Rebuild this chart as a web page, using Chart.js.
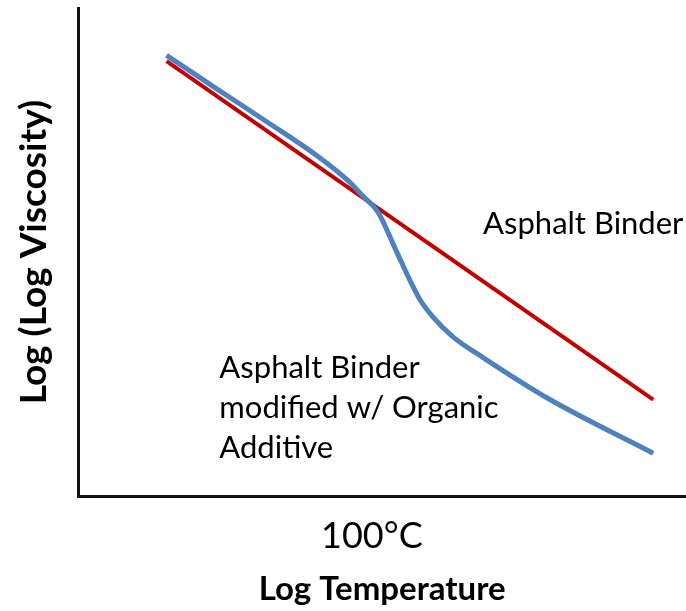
<!DOCTYPE html>
<html>
<head>
    <meta charset="utf-8">
    <script src="https://cdn.jsdelivr.net/npm/chart.js@4.4.1/dist/chart.umd.min.js"></script>
    <style>
        html, body {
            margin: 0;
            padding: 0;
            background-color: #ffffff;
        }

        #wrap {
            width: 686px;
            height: 611px;
        }
    </style>
</head>
<body>
    <div id="wrap"><canvas id="myChart"></canvas></div>

<script>
    // log temperature (arbitrary units, 0-100) and log(log viscosity) (0-100)
    var binderX = [14.5, 94.6];
    var binderY = [89.1, 19.8];

    var modifiedX = [14.5, 22.7, 31.0, 39.2, 44.6, 46.8, 49.3, 52.4, 54.5, 56.2, 58.3, 61.6, 66.6, 77.6, 94.6];
    var modifiedY = [90.3, 83.5, 76.7, 69.8, 64.4, 61.5, 58.2, 50.0, 44.4, 40.3, 36.8, 32.7, 28.4, 19.8, 8.8];

    // the only labelled temperature on the x axis
    var tickValue = 48.3;
    var tickLabel = '100°C';

    // text notes, anchored in data units (left edge, baseline)
    var noteLines = [
        { x: 66.6, y: 53.7, text: 'Asphalt Binder' },
        { x: 23.2, y: 24.3, text: 'Asphalt Binder' },
        { x: 23.2, y: 16.0, text: 'modified w/ Organic' },
        { x: 23.2, y: 7.8, text: 'Additive' }
    ];

    function toPoints(xs, ys) {
        var pts = [];
        for (var i = 0; i < xs.length; i++) {
            pts.push({ x: xs[i], y: ys[i] });
        }
        return pts;
    }

    var noteLabels = {
        id: 'noteLabels',
        afterDatasetsDraw: function (chart) {
            var ctx = chart.ctx;
            var xs = chart.scales.x;
            var ys = chart.scales.y;
            ctx.save();
            ctx.fillStyle = '#000000';
            ctx.font = '31px Lato';
            ctx.textAlign = 'left';
            ctx.textBaseline = 'alphabetic';
            noteLines.forEach(function (n) {
                ctx.fillText(n.text, xs.getPixelForValue(n.x), ys.getPixelForValue(n.y));
            });
            ctx.restore();
        }
    };

    var paintingCanvas = document.getElementById('myChart').getContext('2d');
    var chart = new Chart(paintingCanvas, {
        type: 'line',
        data: {
            datasets: [
                {
                    label: 'Asphalt Binder modified w/ Organic Additive',
                    data: toPoints(modifiedX, modifiedY),
                    borderColor: '#4F81BD',
                    borderWidth: 5,
                    pointRadius: 0,
                    cubicInterpolationMode: 'monotone',
                    order: 0
                },
                {
                    label: 'Asphalt Binder',
                    data: toPoints(binderX, binderY),
                    borderColor: '#C00000',
                    borderWidth: 4,
                    pointRadius: 0,
                    order: 1
                }
            ]
        },
        options: {
            responsive: true,
            maintainAspectRatio: false,
            animation: false,
            layout: {
                padding: { left: 12, top: 8, right: 0, bottom: 2 }
            },
            plugins: {
                legend: { display: false },
                tooltip: { enabled: false }
            },
            scales: {
                x: {
                    type: 'linear',
                    min: 0,
                    max: 100,
                    grid: { display: false },
                    border: { display: true, color: '#111111', width: 3 },
                    afterBuildTicks: function (scale) {
                        scale.ticks = [{ value: tickValue }];
                    },
                    ticks: {
                        color: '#000000',
                        padding: 11,
                        font: { family: 'Lato', size: 36 },
                        maxRotation: 0,
                        callback: function () { return tickLabel; }
                    },
                    title: {
                        display: true,
                        text: 'Log Temperature',
                        color: '#000000',
                        font: { family: 'Lato', size: 33, weight: 'bold' },
                        padding: { top: 0, bottom: 0 }
                    }
                },
                y: {
                    type: 'linear',
                    min: 0,
                    max: 100,
                    grid: { display: false },
                    border: { display: true, color: '#111111', width: 3 },
                    ticks: { display: false },
                    title: {
                        display: true,
                        text: 'Log (Log Viscosity)',
                        color: '#000000',
                        font: { family: 'Lato', size: 37, weight: 'bold' },
                        padding: { top: 0, bottom: 14 }
                    }
                }
            }
        },
        plugins: [noteLabels]
    });
</script>
</body>
</html>
